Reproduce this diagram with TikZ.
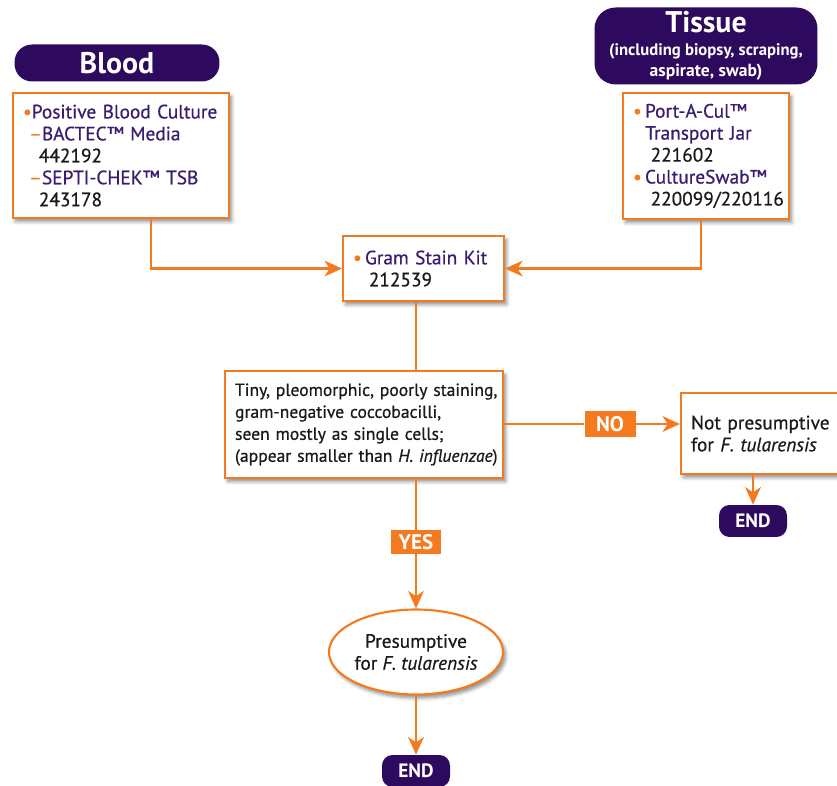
\documentclass[tikz,border=0pt]{standalone}
\usepackage{fontspec}
\setmainfont{PT Sans}
\newfontfamily\semibf{PT Sans}[FakeBold=0.6, Ligatures=TeX]
\usetikzlibrary{arrows.meta,shapes.geometric,shadows.blur}

\begin{document}
\begin{tikzpicture}[x=0.02cm, y=-0.02cm,
    header/.style={fill=headPurple, text=white, font=\bfseries, align=center, inner sep=0pt},
    stepbox/.style={draw=lineOrange, line width=1.2pt, fill=white, anchor=north west, align=left,
        inner sep=0pt, inner xsep=0.2cm, font=\semibf\fontsize{11}{12.5}\selectfont,
        blur shadow={shadow xshift=1.5pt, shadow yshift=-2pt, shadow blur steps=6, shadow opacity=45}},
    endbox/.style={fill=headPurple, text=white, rounded corners=6pt, font=\fontsize{11}{12}\bfseries,
        minimum width=1.36cm, minimum height=0.64cm, inner sep=0pt},
    answer/.style={fill=lineOrange, text=white, font=\fontsize{12}{13}\bfseries, inner sep=0pt},
    link/.style={draw=lineOrange, line width=1.2pt},
    flow/.style={link, -{Stealth[length=10pt, width=9pt, inset=3pt]}}]
    \definecolor{headPurple}{HTML}{2E0A5E}
    \definecolor{lineOrange}{HTML}{F47A20}
    \definecolor{itemPurple}{HTML}{3A1D6E}
    \definecolor{bodyText}{HTML}{1A1A1A}

    \def\obul{\textcolor{lineOrange}{\textbullet}}
    \def\odash{\textcolor{lineOrange}{–}}

    \clip (0,0) rectangle (837,786);

    % Sample headers
    \node[header, rounded corners=10pt, minimum width=4.1cm, minimum height=0.74cm] (bloodhead) at (117,63)
        {\fontsize{17}{18}\selectfont Blood};
    \node[header, rounded corners=12pt, minimum width=4.46cm, minimum height=1.54cm] (tissuehead) at (706,46)
        {\fontsize{17}{18}\selectfont Tissue\\[1pt]\fontsize{9.5}{10.5}\selectfont (including biopsy, scraping,\\aspirate, swab)};

    % Sample boxes
    \node[stepbox, text width=3.92cm, minimum height=2.5cm] (blood) at (12,92)
        {\color{itemPurple}\obul Positive Blood Culture\\
         \hspace*{3.5pt}\odash BACTEC™ Media\\
         \hspace*{9pt}\textcolor{bodyText}{442192}\\
         \hspace*{3.5pt}\odash SEPTI-CHEK™ TSB\\
         \hspace*{9pt}\textcolor{bodyText}{243178}};
    \node[stepbox, text width=2.92cm, minimum height=2.52cm] (tissue) at (622,92)
        {\color{itemPurple}\obul\,Port-A-Cul™\\
         \hspace*{7pt}Transport Jar\\
         \hspace*{10pt}\textcolor{bodyText}{221602}\\
         \obul\,CultureSwab™\\
         \hspace*{10pt}\textcolor{bodyText}{220099/220116}};

    % Stain and decision
    \node[stepbox, text width=2.82cm, minimum height=1.3cm] (gram) at (342,235)
        {\color{itemPurple}\obul\,Gram Stain Kit\\
         \hspace*{9pt}\textcolor{bodyText}{212539}};
    \node[stepbox, text width=5.16cm, minimum height=2.14cm, text=bodyText,
        font=\semibf\fontsize{10}{12.5}\selectfont] (question) at (224,370)
        {\mbox{Tiny, pleomorphic, poorly staining,}\\
         \mbox{gram-negative coccobacilli,}\\
         \mbox{seen mostly as single cells;}\\
         \mbox{(appear smaller than \textit{H. influenzae})}};
    \node[stepbox, text width=3cm, minimum height=1.62cm, text=bodyText] (nopres) at (680,392)
        {\mbox{Not presumptive}\\for \textit{F. tularensis}};
    \node[ellipse, draw=lineOrange, line width=1.2pt, fill=white, text=bodyText, align=center,
        minimum width=3.3cm, minimum height=1.7cm, inner sep=0pt, font=\semibf\fontsize{11}{12.5}\selectfont,
        blur shadow={shadow xshift=1.5pt, shadow yshift=-2pt, shadow blur steps=6, shadow opacity=45}] (pres) at (416,652)
        {Presumptive\\for \textit{F. tularensis}};

    % Answers and ends
    \node[answer, minimum width=1.02cm, minimum height=0.54cm] (no) at (610,424) {NO};
    \node[answer, minimum width=1.0cm, minimum height=0.48cm] (yes) at (416,542) {YES};
    \node[endbox] (endno) at (753,521) {END};
    \node[endbox] (endyes) at (416,771) {END};

    % Connectors
    \coordinate (spine) at (416,0);
    \draw[flow] ([xshift=0.6cm]blood.south) |- (gram.west);
    \draw[flow] ([xshift=-0.1cm]tissue.south) |- (gram.east);
    \draw[link] (gram.south -| spine) -- (question.north -| spine);
    \draw[flow] (no -| question.east) -- (no) -- (no -| nopres.west);
    \draw[flow] (question.south -| spine) -- (yes) -- (pres);
    \draw[flow] (endno.north |- nopres.south) -- (endno.north);
    \draw[flow] (pres.south) -- (endyes.north);

\end{tikzpicture}
\end{document}
